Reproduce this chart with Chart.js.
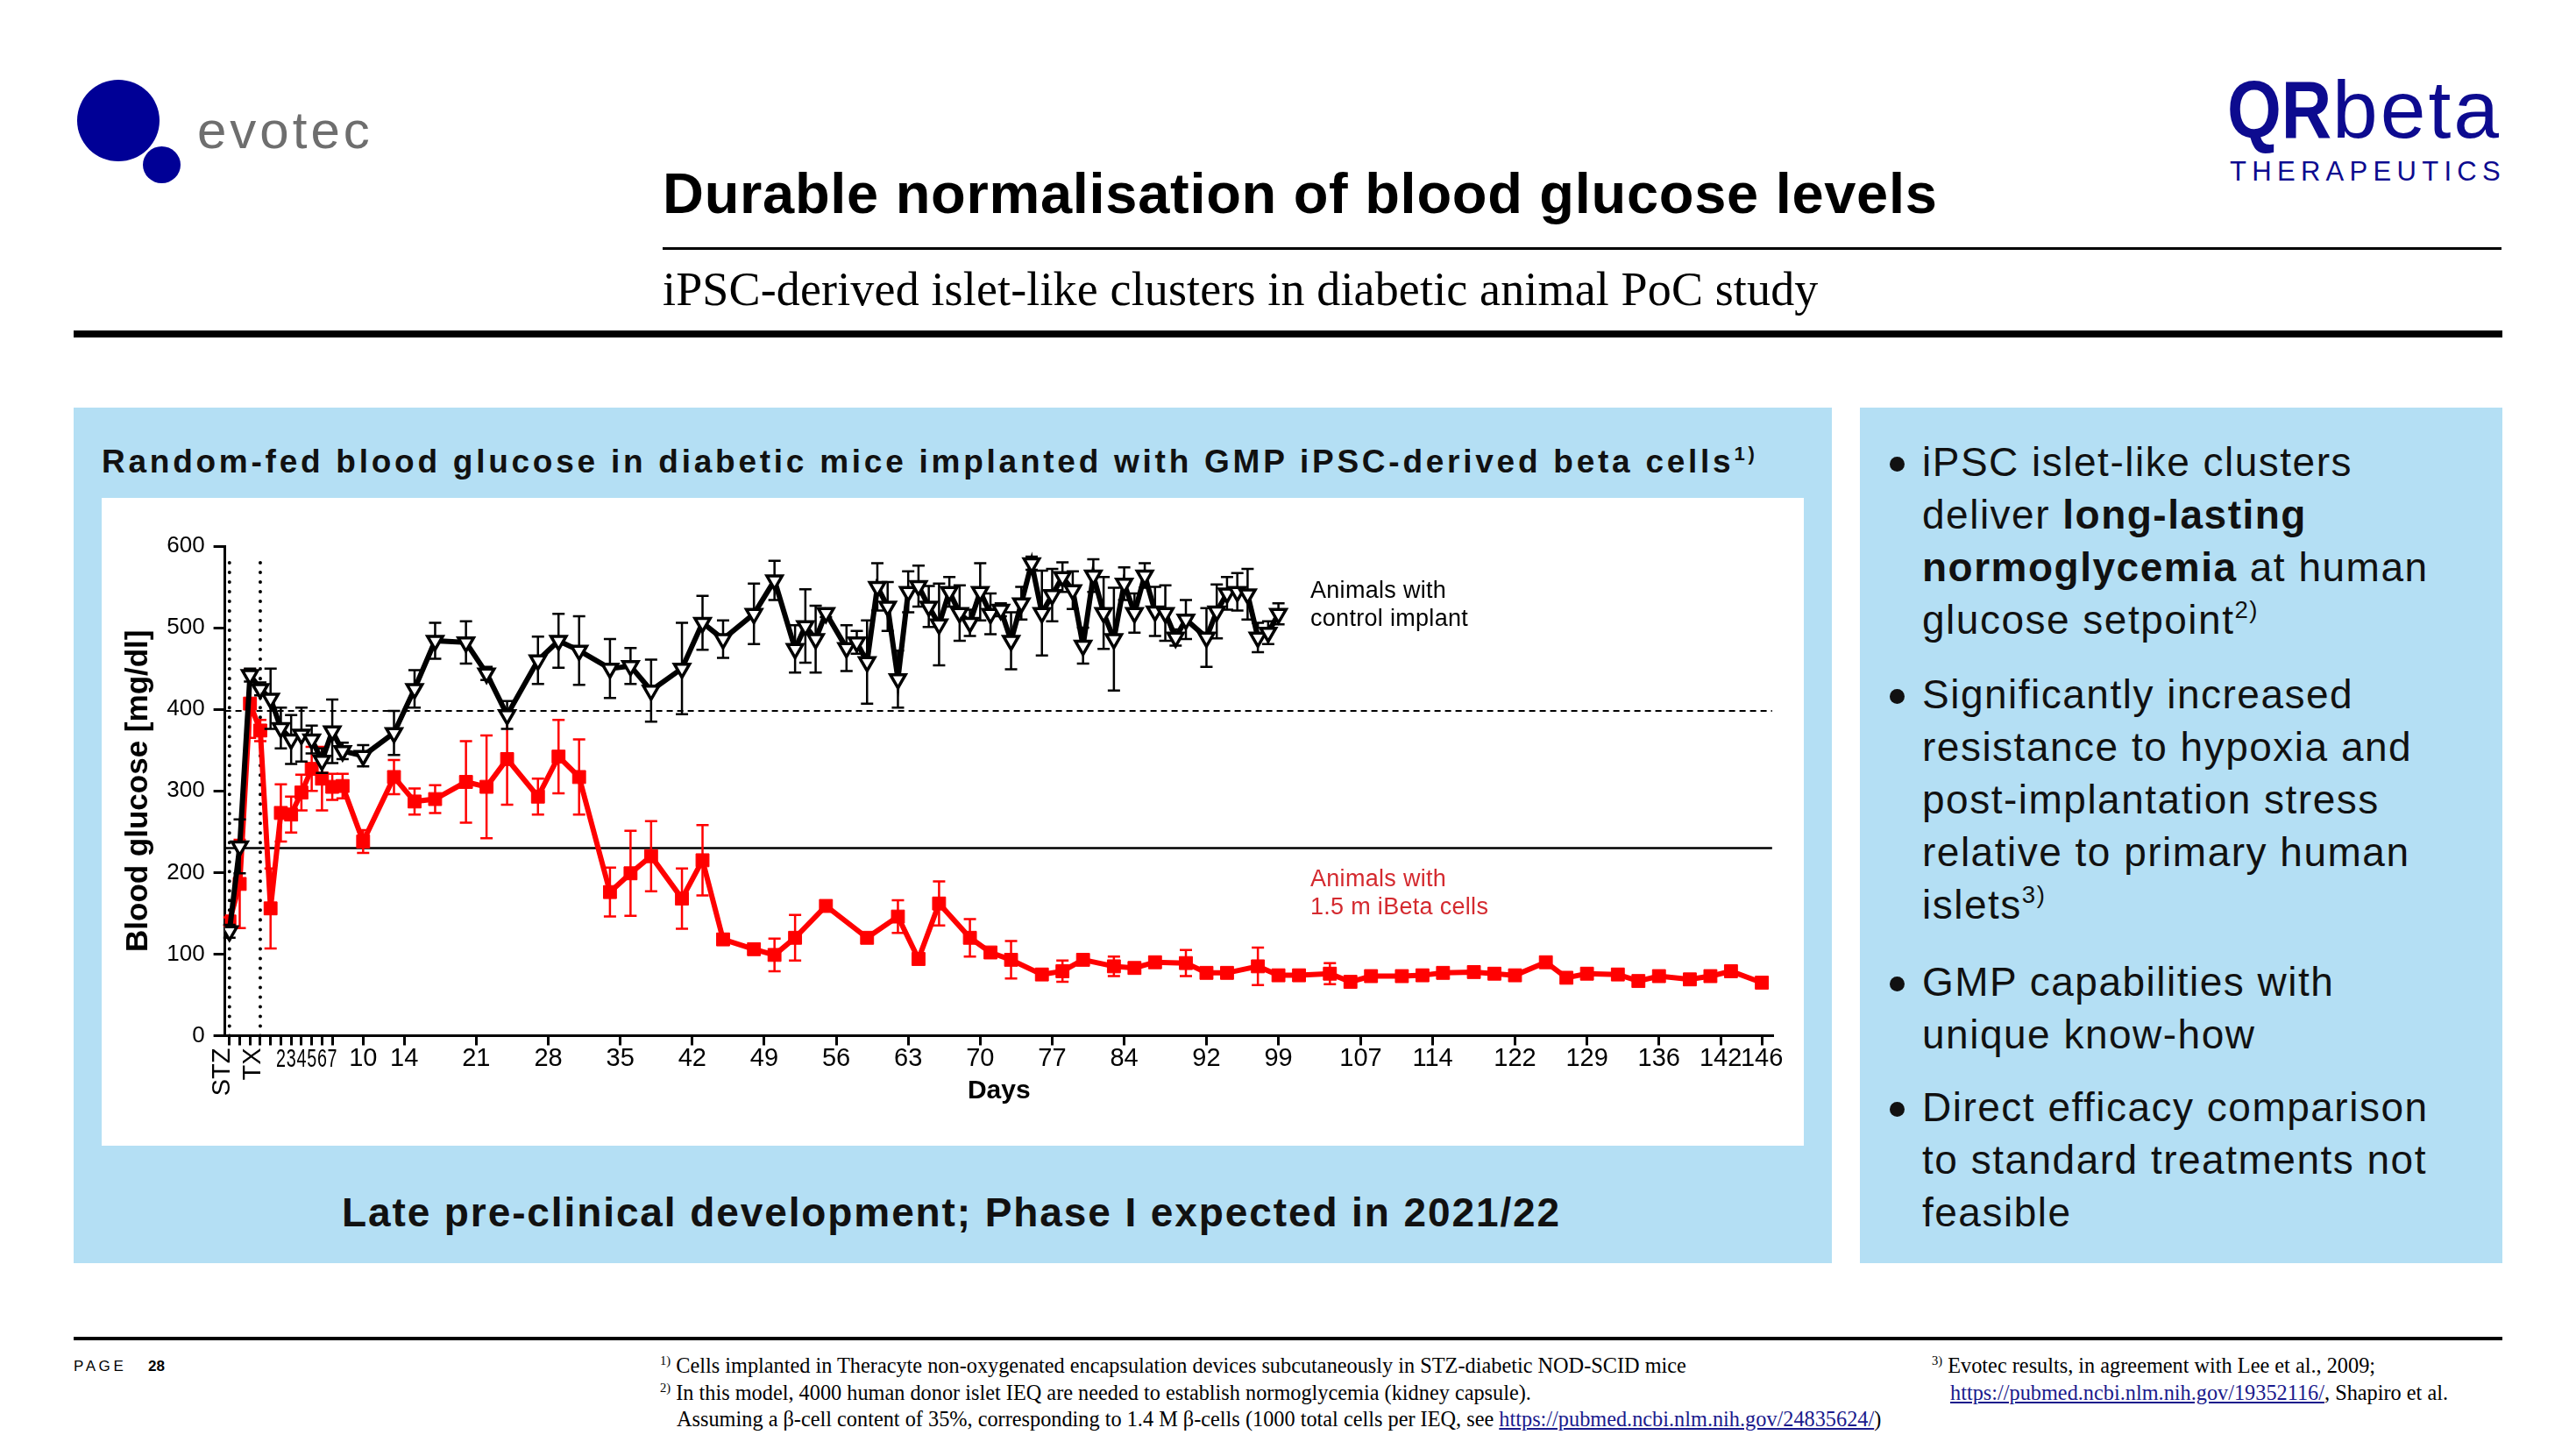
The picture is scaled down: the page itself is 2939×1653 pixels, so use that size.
<!DOCTYPE html>
<html><head><meta charset="utf-8">
<script src="https://cdn.jsdelivr.net/npm/chart.js@4.4.0/dist/chart.umd.min.js"></script>
<style>
html,body{margin:0;padding:0;background:#fff;}
body{width:2939px;height:1653px;position:relative;overflow:hidden;font-family:'Liberation Sans',Arial,sans-serif;color:#000;}
.a{position:absolute;white-space:nowrap;line-height:1;}
.serif{font-family:'Liberation Serif','Times New Roman',serif;}
.sup{position:relative;font-size:0.6em;top:-0.65em;line-height:0;}
.bul{position:absolute;white-space:nowrap;font-size:46px;line-height:60px;letter-spacing:1.5px;left:2193px;color:#111;}
.dot{position:absolute;width:17px;height:17px;border-radius:50%;background:#111;left:2156px;}
a{color:#1a1a8c;}
</style></head><body>

<!-- evotec logo -->
<div class="a" style="left:88px;top:91px;width:94px;height:93px;border-radius:50%;background:#000096;"></div>
<div class="a" style="left:163px;top:167px;width:43px;height:42px;border-radius:50%;background:#000096;"></div>
<div class="a" style="left:225px;top:119px;font-size:60px;color:#6e6e6e;letter-spacing:4px;">evotec</div>

<!-- QRbeta logo -->
<div class="a" style="left:2541px;top:79px;font-size:93px;color:#0d0b8f;font-weight:bold;transform:scaleX(0.855);transform-origin:left top;">QR</div>
<div class="a" style="left:2661px;top:79px;font-size:93px;color:#0d0b8f;letter-spacing:3px;">beta</div>
<div class="a" style="left:2544px;top:179.5px;font-size:31px;color:#0d0b8f;letter-spacing:6.3px;">THERAPEUTICS</div>

<!-- titles -->
<div class="a" style="left:756px;top:188px;font-size:65px;font-weight:bold;letter-spacing:0.7px;">Durable normalisation of blood glucose levels</div>
<div class="a" style="left:756px;top:282px;width:2098px;height:3px;background:#000;"></div>
<div class="a serif" style="left:756px;top:303px;font-size:54px;letter-spacing:0.15px;">iPSC-derived islet-like clusters in diabetic animal PoC study</div>
<div class="a" style="left:84px;top:377px;width:2771px;height:8px;background:#000;"></div>

<!-- panels -->
<div class="a" style="left:84px;top:465px;width:2006px;height:976px;background:#b4dff4;"></div>
<div class="a" style="left:2122px;top:465px;width:733px;height:976px;background:#b4dff4;"></div>
<div class="a" style="left:116px;top:508px;font-size:37px;font-weight:bold;letter-spacing:3.75px;color:#111;">Random-fed blood glucose in diabetic mice implanted with GMP iPSC-derived beta cells<span class="sup">1)</span></div>
<div class="a" style="left:116px;top:568px;width:1942px;height:739px;background:#fff;">
  <canvas id="c" width="1942" height="738"></canvas>
</div>
<div class="a" style="left:1495px;top:656.5px;font-size:27px;line-height:32px;letter-spacing:0.3px;color:#000;">Animals with<br>control implant</div>
<div class="a" style="left:1495px;top:986px;font-size:27px;line-height:32px;letter-spacing:0.3px;color:#d42a2f;">Animals with<br>1.5 m iBeta cells</div>
<div class="a" style="left:390px;top:1360px;font-size:46px;font-weight:bold;letter-spacing:1.9px;color:#111;">Late pre-clinical development; Phase I expected in 2021/22</div>

<!-- bullets -->
<div class="dot" style="top:521px;"></div>
<div class="bul" style="top:497px;">iPSC islet-like clusters<br>deliver <b>long-lasting</b><br><b>normoglycemia</b> at human<br>glucose setpoint<span class="sup">2)</span></div>
<div class="dot" style="top:786px;"></div>
<div class="bul" style="top:762px;">Significantly increased<br>resistance to hypoxia and<br>post-implantation stress<br>relative to primary human<br>islets<span class="sup">3)</span></div>
<div class="dot" style="top:1114px;"></div>
<div class="bul" style="top:1090px;">GMP capabilities with<br>unique know-how</div>
<div class="dot" style="top:1257px;"></div>
<div class="bul" style="top:1233px;">Direct efficacy comparison<br>to standard treatments not<br>feasible</div>

<!-- footer -->
<div class="a" style="left:84px;top:1550px;width:2771px;height:0;"></div>
<div class="a" style="left:84px;top:1525px;width:2771px;height:4px;background:#000;"></div>
<div class="a" style="left:84px;top:1550px;font-size:17px;letter-spacing:3.6px;">PAGE</div>
<div class="a" style="left:169px;top:1550px;font-size:17px;font-weight:bold;">28</div>
<div class="a serif" style="left:753px;top:1546px;font-size:24.3px;"><span class="sup">1)</span> Cells implanted in Theracyte non-oxygenated encapsulation devices subcutaneously in STZ-diabetic NOD-SCID mice</div>
<div class="a serif" style="left:753px;top:1577px;font-size:24.3px;"><span class="sup">2)</span> In this model, 4000 human donor islet IEQ are needed to establish normoglycemia (kidney capsule).</div>
<div class="a serif" style="left:772px;top:1607px;font-size:24.3px;">Assuming a β-cell content of 35%, corresponding to 1.4 M β-cells (1000 total cells per IEQ, see <a href="#">https://pubmed.ncbi.nlm.nih.gov/24835624/</a>)</div>
<div class="a serif" style="left:2204px;top:1546px;font-size:24.3px;"><span class="sup">3)</span> Evotec results, in agreement with Lee et al., 2009;</div>
<div class="a serif" style="left:2225px;top:1577px;font-size:24.3px;"><a href="#">https://pubmed.ncbi.nlm.nih.gov/19352116/</a>, Shapiro et al.</div>

<script>
// ---------- data ----------
const ctrlDays = [-3,-2,-1,0,1,2,3,4,5,6,7,8,10,13,15,17,20,22,24,27,29,31,34,36,38,41,43,45,48,50,52,53,54,55,57,58,59,60,61,62,63,64,65,66,67,68,69,70,71,72,73,74,75,76,77,78,79,80,81,82,83,84,85,86,87,88,89,90,92,93,94,95,96,97,98,99];
const ctrlMean = [128,232,442,425,413,377,363,369,363,337,373,349,343,371,425,484,482,444,393,460,484,472,450,453,423,450,506,486,517,558,474,502,486,518,475,482,458,550,526,437,544,551,526,504,544,518,506,544,517,522,484,530,579,518,540,562,546,478,564,518,486,554,518,564,520,518,488,510,488,520,542,544,541,488,494,517];
const ctrlErr  = [8,33,8,8,37,25,30,33,17,15,39,10,13,27,23,22,26,8,17,29,33,42,36,22,38,56,33,23,37,24,29,45,41,5,28,14,51,29,30,35,25,25,25,50,18,34,16,35,25,8,35,20,8,52,32,18,23,22,20,44,63,20,24,15,30,34,10,24,36,33,20,23,31,18,14,13];

const betaDays = [-3,-2,-1,0,1,2,3,4,5,6,7,8,10,13,15,17,20,22,24,27,29,31,34,36,38,41,43,45,48,50,52,55,59,62,64,66,69,71,73,76,78,80,83,85,87,90,92,94,97,99,101,104,106,108,111,113,115,118,120,122,125,127,129,132,134,136,139,141,143,146];
const betaMean = [140,186,407,374,156,273,271,298,327,315,305,306,238,317,287,290,311,305,339,293,342,317,176,199,220,168,215,118,106,99,120,159,120,146,94,162,120,102,93,75,79,93,85,83,90,89,77,77,85,74,74,76,66,73,73,74,77,78,76,74,90,71,76,75,67,73,69,73,79,65];
const betaErr  = [5,54,42,13,49,35,22,22,27,39,16,15,14,21,16,17,50,63,56,22,45,46,30,52,43,37,43,0,0,20,28,0,0,20,0,27,23,0,23,0,13,0,12,0,0,16,6,6,23,0,0,13,0,0,0,0,0,0,0,0,0,0,0,0,0,0,0,0,0,0];

const xTickDays   = [-3,-2,-1,0,1,2,3,4,5,6,7,10,14,21,28,35,42,49,56,63,70,77,84,92,99,107,114,122,129,136,142,146];
const xTickLabels = ['STZ','','','TX','','2','3','4','5','6','7','10','14','21','28','35','42','49','56','63','70','77','84','92','99','107','114','122','129','136','142','146'];
const rotatedLabels = ['STZ','TX'];
const narrowLabels = ['2','3','4','5','6','7'];

const normalLevel = 398;   // dashed reference
const targetLevel = 230;   // solid reference
const eventDays = [-3, 0]; // STZ and TX dotted lines

const X_MIN = -3.44, X_MAX = 147.1;
const FONT = "'Liberation Sans', Arial, sans-serif";

const toPts = (xs, ys) => xs.map((x, i) => ({x, y: ys[i]}));

// ---------- plugins ----------
const errorBars = {
  id: 'errorBars',
  beforeDatasetDraw(chart, args) {
    const ds = chart.data.datasets[args.index];
    if (!ds.errors) return;
    const xs = chart.scales.x, ys = chart.scales.y, ctx = chart.ctx;
    ctx.save();
    ctx.strokeStyle = ds.borderColor;
    ctx.lineWidth = 2.5;
    const cap = 7;
    ds.data.forEach((p, i) => {
      const e = ds.errors[i];
      if (!e) return;
      const px = xs.getPixelForValue(p.x);
      const t = ys.getPixelForValue(p.y + e), b = ys.getPixelForValue(p.y - e);
      ctx.beginPath();
      ctx.moveTo(px, t); ctx.lineTo(px, b);
      ctx.moveTo(px - cap, t); ctx.lineTo(px + cap, t);
      ctx.moveTo(px - cap, b); ctx.lineTo(px + cap, b);
      ctx.stroke();
    });
    ctx.restore();
  }
};

const specialTicks = {
  id: 'specialTicks',
  afterDraw(chart) {
    const xs = chart.scales.x, ctx = chart.ctx;
    ctx.save();
    ctx.fillStyle = '#000';
    ctx.font = '29px ' + FONT;
    xTickDays.forEach((d, i) => {
      const lab = xTickLabels[i];
      const px = xs.getPixelForValue(d);
      if (rotatedLabels.includes(lab)) {
        ctx.save();
        ctx.translate(px, xs.top + 14);
        ctx.rotate(-Math.PI / 2);
        ctx.textAlign = 'right';
        ctx.textBaseline = 'alphabetic';
        ctx.fillText(lab, 0, 0);
        ctx.restore();
      } else if (narrowLabels.includes(lab)) {
        ctx.save();
        ctx.translate(px, xs.top + 27.5);
        ctx.scale(0.68, 1);
        ctx.textAlign = 'center';
        ctx.textBaseline = 'middle';
        ctx.fillText(lab, 0, 0);
        ctx.restore();
      }
    });
    ctx.restore();
  }
};

// ---------- chart ----------
const refLine = (pts, dash, width, cap) => ({
  type: 'line', data: pts, borderColor: '#000', borderWidth: width, borderDash: dash,
  borderCapStyle: cap || 'butt', pointRadius: 0, fill: false, order: 5
});

new Chart(document.getElementById('c'), {
  type: 'line',
  data: {
    datasets: [
      {
        label: 'control implant', data: toPts(ctrlDays, ctrlMean), errors: ctrlErr,
        borderColor: '#000', borderWidth: 6, pointStyle: 'triangle', pointRotation: 180,
        pointRadius: 10, pointBorderWidth: 3.5, pointBackgroundColor: '#fff', pointBorderColor: '#000',
        order: 0
      },
      {
        label: '1.5 m iBeta cells', data: toPts(betaDays, betaMean), errors: betaErr,
        borderColor: '#ff0000', borderWidth: 6, pointStyle: 'rect',
        pointRadius: 10.5, pointBorderWidth: 1, pointBackgroundColor: '#ff0000', pointBorderColor: '#ff0000',
        order: 1
      },
      refLine([{x: X_MIN, y: normalLevel}, {x: 147, y: normalLevel}], [7, 5], 2),
      refLine([{x: X_MIN, y: targetLevel}, {x: 147, y: targetLevel}], [], 2.5),
      refLine([{x: eventDays[0], y: 0}, {x: eventDays[0], y: 580}], [0.01, 11], 4, 'round'),
      refLine([{x: eventDays[1], y: 0}, {x: eventDays[1], y: 580}], [0.01, 11], 4, 'round')
    ]
  },
  options: {
    responsive: false,
    animation: false,
    devicePixelRatio: 1,
    layout: { padding: { top: 55, right: 35, left: 0, bottom: 0 } },
    plugins: { legend: { display: false }, tooltip: { enabled: false } },
    elements: { line: { tension: 0 } },
    scales: {
      x: {
        type: 'linear', min: X_MIN, max: X_MAX,
        afterBuildTicks: (s) => { s.ticks = xTickDays.map(v => ({ value: v })); },
        afterFit: (s) => { s.height = 124.5; },
        ticks: {
          autoSkip: false, maxRotation: 0, minRotation: 0, padding: -2, color: '#000',
          font: { family: FONT, size: 29 },
          callback: (v, i) => {
            const lab = xTickLabels[i];
            return (rotatedLabels.includes(lab) || narrowLabels.includes(lab)) ? '' : lab;
          }
        },
        grid: { display: true, drawOnChartArea: false, drawTicks: true, tickLength: 11, tickWidth: 3, tickColor: '#000' },
        border: { display: true, width: 3, color: '#000' },
        title: { display: true, text: 'Days', color: '#000', font: { family: FONT, size: 30, weight: 'bold' }, padding: { top: 0, bottom: 43 } }
      },
      y: {
        min: 0, max: 600,
        afterFit: (s) => { s.width = 140.6; },
        ticks: { stepSize: 100, padding: 10, color: '#000', font: { family: FONT, size: 26 } },
        grid: { display: true, drawOnChartArea: false, drawTicks: true, tickLength: 13, tickWidth: 3, tickColor: '#000' },
        border: { display: true, width: 3, color: '#000' },
        title: { display: true, text: 'Blood glucose [mg/dl]', color: '#000', font: { family: FONT, size: 35, weight: 'bold' }, padding: { top: 21, bottom: 0 } }
      }
    }
  },
  plugins: [errorBars, specialTicks]
});
</script>
</body></html>
